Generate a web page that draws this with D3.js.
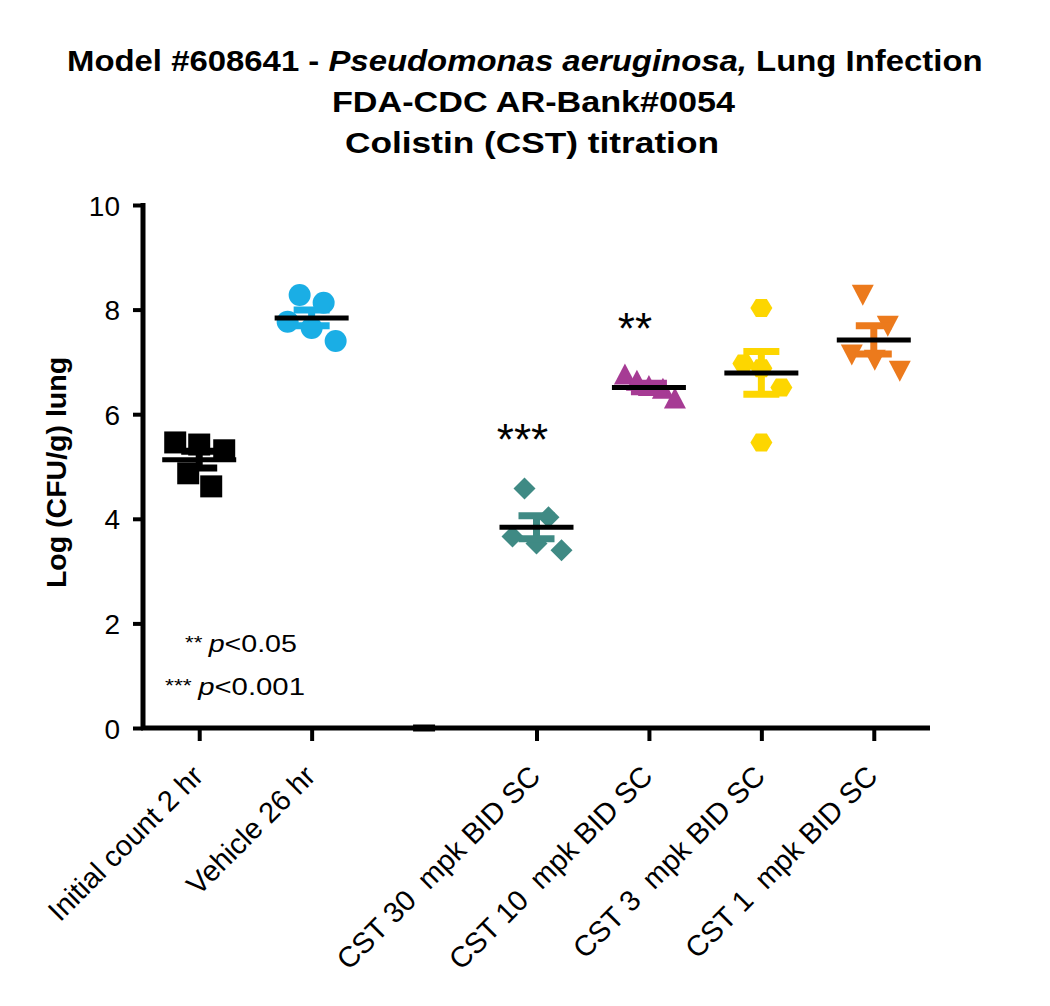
<!DOCTYPE html>
<html>
<head>
<meta charset="utf-8">
<script src="https://cdn.jsdelivr.net/npm/d3@7/dist/d3.min.js"></script>
<style>
  html, body { margin: 0; padding: 0; background: #fff; }
  svg { display: block; font-family: "Liberation Sans", Arial, sans-serif; }
</style>
</head>
<body>
<svg id="chart" width="1050" height="1006"></svg>
<script>
// ---------------- DATA ----------------
const categories = [
  "Initial count 2 hr",
  "Vehicle 26 hr",
  "",
  "CST 30  mpk BID SC",
  "CST 10  mpk BID SC",
  "CST 3  mpk BID SC",
  "CST 1  mpk BID SC"
];
const initialCount = [5.46, 5.42, 5.31, 4.87, 4.62];
const vehicle      = [8.28, 8.13, 7.77, 7.65, 7.40];
const emptyGroup   = [];
const cst30        = [4.58, 4.03, 3.66, 3.53, 3.40];
const cst10        = [6.72, 6.60, 6.50, 6.45, 6.26];
const cst3         = [8.03, 6.97, 6.51, 5.46, 6.88];
const cst1         = [8.32, 7.73, 7.18, 7.08, 6.87];
const groupValues  = [initialCount, vehicle, emptyGroup, cst30, cst10, cst3, cst1];
const groupMeans   = [5.13, 7.84, 0, 3.84, 6.51, 6.79, 7.42];
const groupSEM     = [0.16, 0.15, 0, 0.22, 0.08, 0.41, 0.27];
const significance = ["", "", "", "***", "**", "", ""];
const yTicks       = [0, 2, 4, 6, 8, 10];

// ---------------- LAYOUT / STYLE ----------------
const colors  = ["#000000", "#1aaee5", "#000000", "#3f8a84", "#a63b94", "#fdd600", "#ec7a1c"];
const shapes  = ["square", "circle", "none", "diamond", "triUp", "hexagon", "triDown"];
// horizontal scatter offsets (px) of each point from its column centre
const jitter  = [
  [-24, 0, 25, -11, 12],
  [-12, 12, -24, 0, 24],
  [],
  [-12, 12, -24, 0, 25],
  [-24, -12, 0, 14, 26],
  [0, -18, 20, 0, 0],
  [-11, 14, -22, 1, 26]
];

const svg = d3.select("#chart");
const padL = 143, padR = 930, padT = 205, padB = 728;
const FONT = "Liberation Sans, Arial, sans-serif";

const x = d3.scalePoint().domain(d3.range(categories.length)).range([padL, padR]).padding(0.5);
const y = d3.scaleLinear().domain([0, 10]).range([padB, padT]);

// stretch a text horizontally so that it spans [x0, x1]
function fitX(sel, x0, x1) {
  const bb = sel.node().getBBox();
  const s = (x1 - x0) / bb.width;
  sel.attr("transform", `translate(${x0},0) scale(${s},1) translate(${-bb.x},0)`);
}

// Title
function titleLine(yBase) {
  return svg.append("text").attr("x", 0).attr("y", yBase)
    .attr("font-weight", "bold").attr("font-size", 29.5).attr("fill", "#000");
}
const tl1 = titleLine(71);
tl1.append("tspan").text("Model #608641 - ");
tl1.append("tspan").attr("font-style", "italic").text("Pseudomonas aeruginosa,");
tl1.append("tspan").text(" Lung Infection");
fitX(tl1, 67, 983);
const tl2 = titleLine(112).text("FDA-CDC AR-Bank#0054");
fitX(tl2, 332, 736);
const tl3 = titleLine(153).text("Colistin (CST) titration");
fitX(tl3, 345, 719);

// Y axis
const yAxis = svg.append("g").attr("transform", `translate(${padL},0)`)
  .call(d3.axisLeft(y).tickValues(yTicks).tickSize(10).tickPadding(13).tickFormat(d3.format("d")));
yAxis.select(".domain").remove();
yAxis.selectAll(".tick line").attr("stroke", "#000").attr("stroke-width", 4);
yAxis.selectAll(".tick text").attr("font-size", 28).attr("fill", "#000")
  .attr("font-family", FONT).attr("dy", "0.36em");
svg.append("line").attr("x1", padL).attr("x2", padL).attr("y1", padT - 2).attr("y2", padB + 2)
  .attr("stroke", "#000").attr("stroke-width", 5);

// X axis
const xAxis = svg.append("g").attr("transform", `translate(0,${padB})`)
  .call(d3.axisBottom(x).tickSize(13).tickFormat(i => categories[i]));
xAxis.select(".domain").remove();
xAxis.selectAll(".tick line").attr("stroke", "#000").attr("stroke-width", 4)
  .attr("display", (d, i) => categories[i] === "" ? "none" : null);
xAxis.selectAll(".tick text")
  .attr("font-size", 29).attr("fill", "#000")
  .attr("font-family", FONT)
  .attr("text-anchor", "end")
  .attr("y", 0).attr("dy", 0)
  .attr("transform", "translate(5,50) rotate(-45)")
  .style("white-space", "pre");
svg.append("line").attr("x1", padL - 2).attr("x2", padR).attr("y1", padB).attr("y2", padB)
  .attr("stroke", "#000").attr("stroke-width", 5);

// Y label
svg.append("text")
  .attr("transform", `translate(66,${(padT + padB) / 2 + 6}) rotate(-90)`)
  .attr("text-anchor", "middle").attr("font-weight", "bold").attr("font-size", 28.5)
  .text("Log (CFU/g) lung");

// Symbol paths
function symbolPath(shape) {
  switch (shape) {
    case "square":  return "M-11,-11H11V11H-11Z";
    case "circle":  return d3.symbol(d3.symbolCircle, Math.PI * 11 * 11)();
    case "diamond": return "M0,-11L11,0L0,11L-11,0Z";
    case "triUp":   return "M0,-13L11,8L-11,8Z";
    case "triDown": return "M0,13L11,-8L-11,-8Z";
    case "hexagon": return "M-11,0L-5.5,-9L5.5,-9L11,0L5.5,9L-5.5,9Z";
    default: return "";
  }
}

// Points
groupValues.forEach((vals, gi) => {
  const g = svg.append("g");
  g.selectAll("path").data(vals).join("path")
    .attr("d", symbolPath(shapes[gi]))
    .attr("fill", colors[gi])
    .attr("transform", (v, j) => `translate(${x(gi) + jitter[gi][j]},${y(v)})`);
});

// Error bars (SEM) and mean lines
groupMeans.forEach((m, gi) => {
  const cx = x(gi);
  const hasData = groupValues[gi].length > 0;
  if (hasData && groupSEM[gi] > 0) {
    const eb = svg.append("g").attr("stroke", colors[gi]).attr("stroke-width", 7);
    eb.append("line").attr("x1", cx).attr("x2", cx).attr("y1", y(m + groupSEM[gi])).attr("y2", y(m - groupSEM[gi]));
    eb.append("line").attr("x1", cx - 18).attr("x2", cx + 18).attr("y1", y(m + groupSEM[gi])).attr("y2", y(m + groupSEM[gi]));
    eb.append("line").attr("x1", cx - 18).attr("x2", cx + 18).attr("y1", y(m - groupSEM[gi])).attr("y2", y(m - groupSEM[gi]));
  }
  const half = hasData ? 37 : 11;
  svg.append("line").attr("x1", cx - half).attr("x2", cx + half).attr("y1", y(m)).attr("y2", y(m))
    .attr("stroke", "#000").attr("stroke-width", hasData ? 5 : 7);
});

// Significance stars above groups
significance.forEach((s, gi) => {
  if (!s) return;
  const maxV = d3.max(groupValues[gi]);
  svg.append("text").attr("x", x(gi) - 14).attr("y", y(maxV) - 33)
    .attr("text-anchor", "middle").attr("font-size", 44).text(s);
});

// p-value legend
function legendLine(x0, x1, yBase, stars, pval) {
  const t = svg.append("text").attr("x", 0).attr("y", yBase).attr("font-size", 23);
  t.append("tspan").attr("font-size", 18).attr("dy", -3).text(stars + " ");
  t.append("tspan").attr("font-style", "italic").attr("dy", 3).text("p");
  t.append("tspan").text(pval);
  fitX(t, x0, x1);
}
legendLine(185, 297, 652, "**", "<0.05");
legendLine(165, 305, 695, "***", "<0.001");
</script>
</body>
</html>
